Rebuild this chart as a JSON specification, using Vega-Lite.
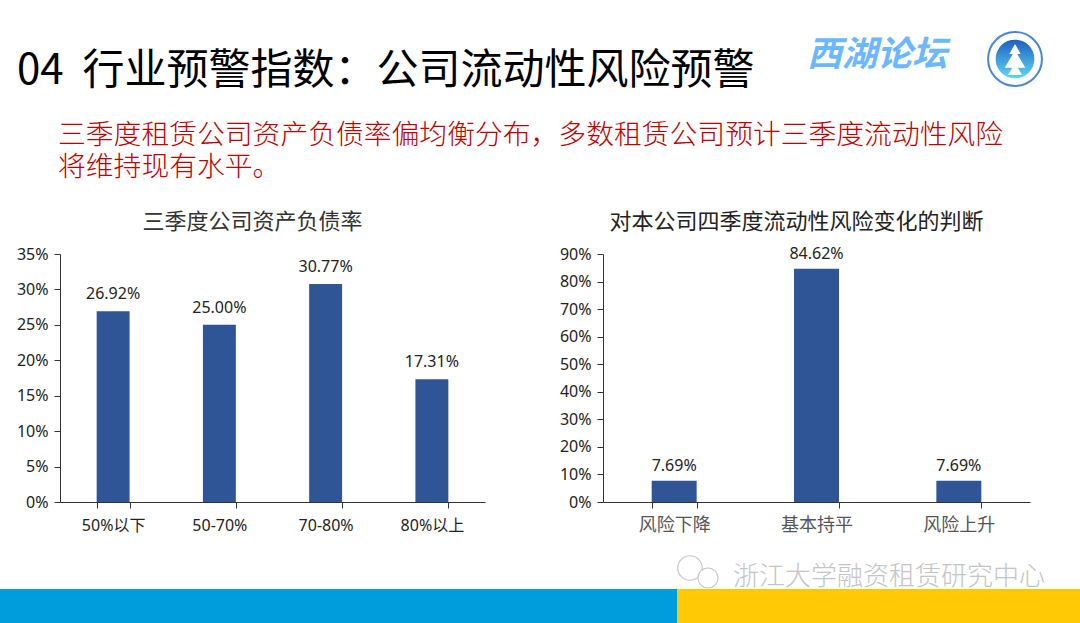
{
  "$schema": "https://vega.github.io/schema/vega-lite/v6.json",
  "padding": 0,
  "background": "white",
  "config": {
    "font": "Noto Sans, Noto Sans CJK SC",
    "view": {"stroke": null},
    "axis": {"grid": false, "domainColor": "#333333", "tickColor": "#333333", "tickSize": 6, "labelColor": "#222222", "labelFontSize": 16, "labelPadding": 6, "title": null},
    "title": {"font": "Noto Sans CJK SC"}
  },
  "spacing": 0,
  "vconcat": [
    {"width": 1080, "height": 28, "data": {"values": []}, "mark": "rect"},
    {
      "spacing": 0,
      "hconcat": [
        {
          "width": 790,
          "height": 94,
          "title": {"text": "04\u00a0\u00a0行业预警指数\uff1a公司流动性风险预警", "anchor": "start", "dx": 17, "dy": 65, "fontSize": 42, "fontWeight": 400, "color": "#000000", "offset": 0},
          "data": {"values": []},
          "mark": "rect"
        },
        {
          "width": 194,
          "height": 94,
          "title": {"text": "西湖论坛", "anchor": "start", "dx": 17, "dy": 45, "fontSize": 35, "fontWeight": 700, "fontStyle": "italic", "color": "#6cb8ff", "offset": 0},
          "data": {"values": []},
          "mark": "rect"
        },
        {
          "width": 62,
          "height": 62,
          "data": {"values": [{"logo": "西湖论坛"}]},
          "layer": [
            {"mark": {"type": "point", "filled": true, "size": 2900, "fill": "white", "stroke": "#4a86d8", "strokeWidth": 2, "opacity": 1}},
            {"mark": {"type": "point", "filled": true, "size": 1500, "opacity": 1, "color": {"x1": 0, "y1": 0, "x2": 0, "y2": 1, "gradient": "linear", "stops": [{"offset": 0, "color": "#1f5fc0"}, {"offset": 1, "color": "#5fd8f0"}]}}},
            {"mark": {"type": "point", "shape": "triangle-up", "filled": true, "size": 130, "color": "white", "opacity": 1, "yOffset": -10}},
            {"mark": {"type": "point", "shape": "triangle-up", "filled": true, "size": 420, "color": "white", "opacity": 1, "yOffset": 0}},
            {"mark": {"type": "point", "shape": "triangle-up", "filled": true, "size": 200, "color": "white", "opacity": 1, "yOffset": 10}}
          ]
        }
      ]
    },
    {
      "spacing": 0,
      "title": {"text": ["三季度租赁公司资产负债率偏均衡分布\uff0c多数租赁公司预计三季度流动性风险", "将维持现有水平。"], "anchor": "start", "dx": 58, "fontSize": 27.8, "fontWeight": 300, "color": "#c00000", "lineHeight": 32, "offset": 29},
      "hconcat": [
        {"width": 16, "height": 248, "data": {"values": []}, "mark": "rect"},
        {
          "spacing": 74,
          "hconcat": [
            {
              "width": 425,
              "height": 248,
              "title": {"text": "三季度公司资产负债率", "fontSize": 22, "fontWeight": 400, "color": "#333333", "dx": -20, "offset": 12},
              "data": {"values": [
                {"range": "50%以下", "share": 0.2692},
                {"range": "50-70%", "share": 0.25},
                {"range": "70-80%", "share": 0.3077},
                {"range": "80%以上", "share": 0.1731}
              ]},
              "encoding": {
                "x": {"field": "range", "type": "nominal", "sort": null, "scale": {"paddingInner": 0.69, "paddingOuter": 0.345}, "axis": {"labelAngle": 0, "tickBand": "extent", "labelPadding": 9}},
                "y": {"field": "share", "type": "quantitative", "scale": {"domain": [0, 0.35]}, "axis": {"values": [0, 0.05, 0.1, 0.15, 0.2, 0.25, 0.3, 0.35], "format": ".0%"}}
              },
              "layer": [
                {"mark": {"type": "bar", "color": "#2f5597"}},
                {"mark": {"type": "text", "baseline": "bottom", "dy": -9, "fontSize": 16, "color": "#222222"}, "encoding": {"text": {"field": "share", "type": "quantitative", "format": ".2%"}}}
              ]
            },
            {
              "width": 427,
              "height": 248,
              "title": {"text": "对本公司四季度流动性风险变化的判断", "fontSize": 22, "fontWeight": 400, "color": "#222222", "dx": -20, "offset": 12},
              "data": {"values": [
                {"view": "风险下降", "share": 0.0769},
                {"view": "基本持平", "share": 0.8462},
                {"view": "风险上升", "share": 0.0769}
              ]},
              "encoding": {
                "x": {"field": "view", "type": "nominal", "sort": null, "scale": {"paddingInner": 0.684, "paddingOuter": 0.342}, "axis": {"labelAngle": 0, "tickBand": "extent", "labelFontSize": 18, "labelColor": "#555555", "labelPadding": 8}},
                "y": {"field": "share", "type": "quantitative", "scale": {"domain": [0, 0.9]}, "axis": {"values": [0, 0.1, 0.2, 0.3, 0.4, 0.5, 0.6, 0.7, 0.8, 0.9], "format": ".0%"}}
              },
              "layer": [
                {"mark": {"type": "bar", "color": "#2f5597"}},
                {"mark": {"type": "text", "baseline": "bottom", "dy": -7, "fontSize": 16, "color": "#222222"}, "encoding": {"text": {"field": "share", "type": "quantitative", "format": ".2%"}}}
              ]
            }
          ]
        }
      ]
    },
    {"width": 1080, "height": 19, "data": {"values": []}, "mark": "rect"},
    {
      "width": 1080,
      "height": 34,
      "title": {"text": "浙江大学融资租赁研究中心", "anchor": "end", "dx": -35, "dy": 39, "fontSize": 26, "fontWeight": 300, "color": "#c4c4c4", "offset": 2},
      "data": {"values": [
        {"segment": "blue", "start": 0, "end": 677},
        {"segment": "yellow", "start": 677, "end": 1080}
      ]},
      "layer": [
        {
          "mark": {"type": "bar", "height": 34},
          "encoding": {
            "x": {"field": "start", "type": "quantitative", "scale": {"domain": [0, 1080]}, "axis": null},
            "x2": {"field": "end"},
            "color": {"field": "segment", "type": "nominal", "scale": {"domain": ["blue", "yellow"], "range": ["#009ddc", "#ffc905"]}, "legend": null}
          }
        },
        {
          "transform": [{"filter": "datum.segment == 'blue'"}],
          "mark": {"type": "point", "filled": true, "size": 600, "fill": "white", "stroke": "#c8c8c8", "strokeWidth": 1.2, "opacity": 1, "xOffset": 13, "yOffset": -38},
          "encoding": {"x": {"field": "end", "type": "quantitative", "scale": {"domain": [0, 1080]}, "axis": null}}
        },
        {
          "transform": [{"filter": "datum.segment == 'blue'"}],
          "mark": {"type": "point", "filled": true, "size": 400, "fill": "white", "stroke": "#c8c8c8", "strokeWidth": 1.2, "opacity": 1, "xOffset": 31, "yOffset": -28},
          "encoding": {"x": {"field": "end", "type": "quantitative", "scale": {"domain": [0, 1080]}, "axis": null}}
        }
      ]
    }
  ]
}
